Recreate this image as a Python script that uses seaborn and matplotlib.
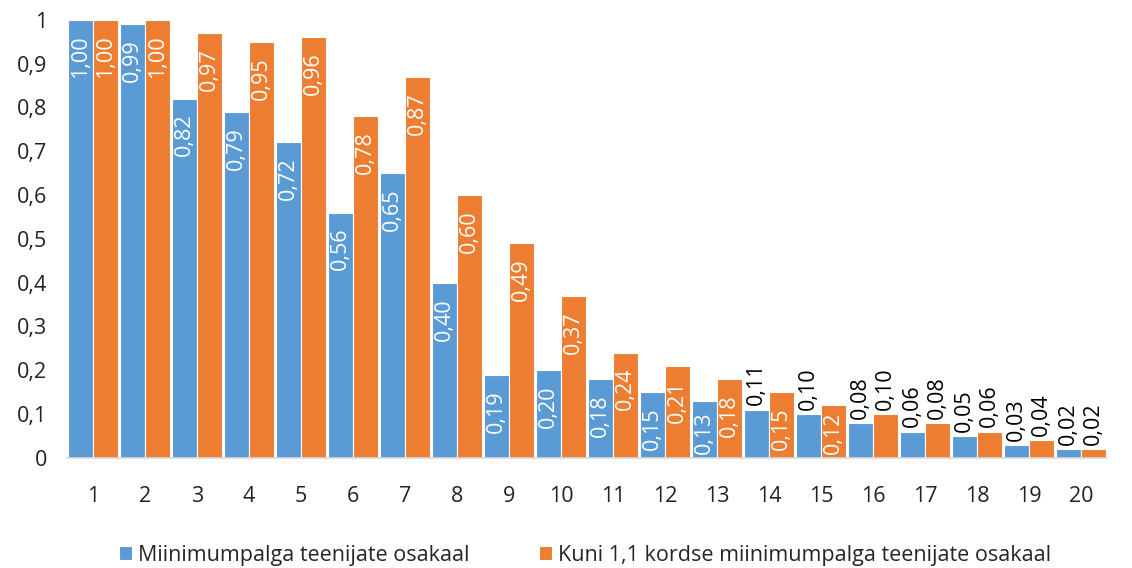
import matplotlib
matplotlib.use("Agg")
import matplotlib.pyplot as plt
import numpy as np
import pandas as pd
import seaborn as sns

# andmed
kategooriad = [str(i) for i in range(1, 21)]
miinimum = [1.00, 0.99, 0.82, 0.79, 0.72, 0.56, 0.65, 0.40, 0.19, 0.20,
            0.18, 0.15, 0.13, 0.11, 0.10, 0.08, 0.06, 0.05, 0.03, 0.02]
kuni_11 = [1.00, 1.00, 0.97, 0.95, 0.96, 0.78, 0.87, 0.60, 0.49, 0.37,
           0.24, 0.21, 0.18, 0.15, 0.12, 0.10, 0.08, 0.06, 0.04, 0.02]
seeria_nimed = ["Miinimumpalga teenijate osakaal",
                "Kuni 1,1 kordse miinimumpalga teenijate osakaal"]
y_ticks = [0, 0.1, 0.2, 0.3, 0.4, 0.5, 0.6, 0.7, 0.8, 0.9, 1]

df = pd.DataFrame({
    "kat": kategooriad * 2,
    "vaartus": miinimum + kuni_11,
    "seeria": [seeria_nimed[0]] * 20 + [seeria_nimed[1]] * 20,
})

sns.set_style("white")
plt.rcParams["font.family"] = ["Open Sans", "DejaVu Sans"]
fs = 15.5

fig = plt.figure(figsize=(11.32, 5.68), dpi=100)
ax = fig.add_axes([0.059, 0.194, 0.919, 0.771])

sns.barplot(data=df, x="kat", y="vaartus", hue="seeria",
            palette=["#5B9BD5", "#ED7D31"], width=0.96,
            edgecolor="white", linewidth=0.8, saturation=1,
            errorbar=None, ax=ax)

ax.set_ylim(0, 1)
ax.set_xlim(-0.5, 19.5)

# väärtuste sildid
inside = []
for cont in ax.containers:
    for bar in cont:
        h = bar.get_height()
        x = bar.get_x() + bar.get_width() / 2
        txt = f"{h:.2f}".replace(".", ",")
        if h >= 0.12:
            t = ax.annotate(txt, (x, h), xytext=(0, -11), textcoords="offset points",
                            rotation=90, ha="center", va="top", color="white",
                            fontsize=fs)
            inside.append(t)
        else:
            ax.annotate(txt, (x, h), xytext=(0, 3), textcoords="offset points",
                        rotation=90, ha="center", va="bottom", color="black",
                        fontsize=fs)

# kui silt ei mahu tulba sisse, nihutame ülespoole
fig.canvas.draw()
r = fig.canvas.get_renderer()
base = ax.transData.transform((0, 0))[1]
for t in inside:
    bb = t.get_window_extent(r)
    if bb.y0 < base + 4:
        shift = (base + 4 - bb.y0) * 72 / fig.dpi
        t.xyann = (0, t.xyann[1] + shift)

ax.set_yticks(y_ticks)
ax.set_yticklabels([("%g" % t).replace(".", ",") for t in y_ticks])
ax.set_xlabel("")
ax.set_ylabel("")
ax.tick_params(axis="both", labelsize=fs, length=0, colors="#222222")
ax.tick_params(axis="x", pad=20)
ax.tick_params(axis="y", pad=14)
ax.set_xticks(np.arange(-0.5, 20, 1), minor=True)
ax.tick_params(axis="x", which="minor", length=8, color="#d9d9d9", width=1)

for s in ["top", "right", "left"]:
    ax.spines[s].set_visible(False)
ax.spines["bottom"].set_color("#d9d9d9")
ax.spines["bottom"].set_linewidth(1.2)

handles, labels = ax.get_legend_handles_labels()
ax.get_legend().remove()
fig.legend(handles, labels, loc="lower center", bbox_to_anchor=(0.517, -0.03),
           ncol=2, frameon=False, fontsize=fs, handlelength=0.6,
           handleheight=0.6, handletextpad=0.3, columnspacing=3.2)

fig.savefig("out.png", dpi=100)
